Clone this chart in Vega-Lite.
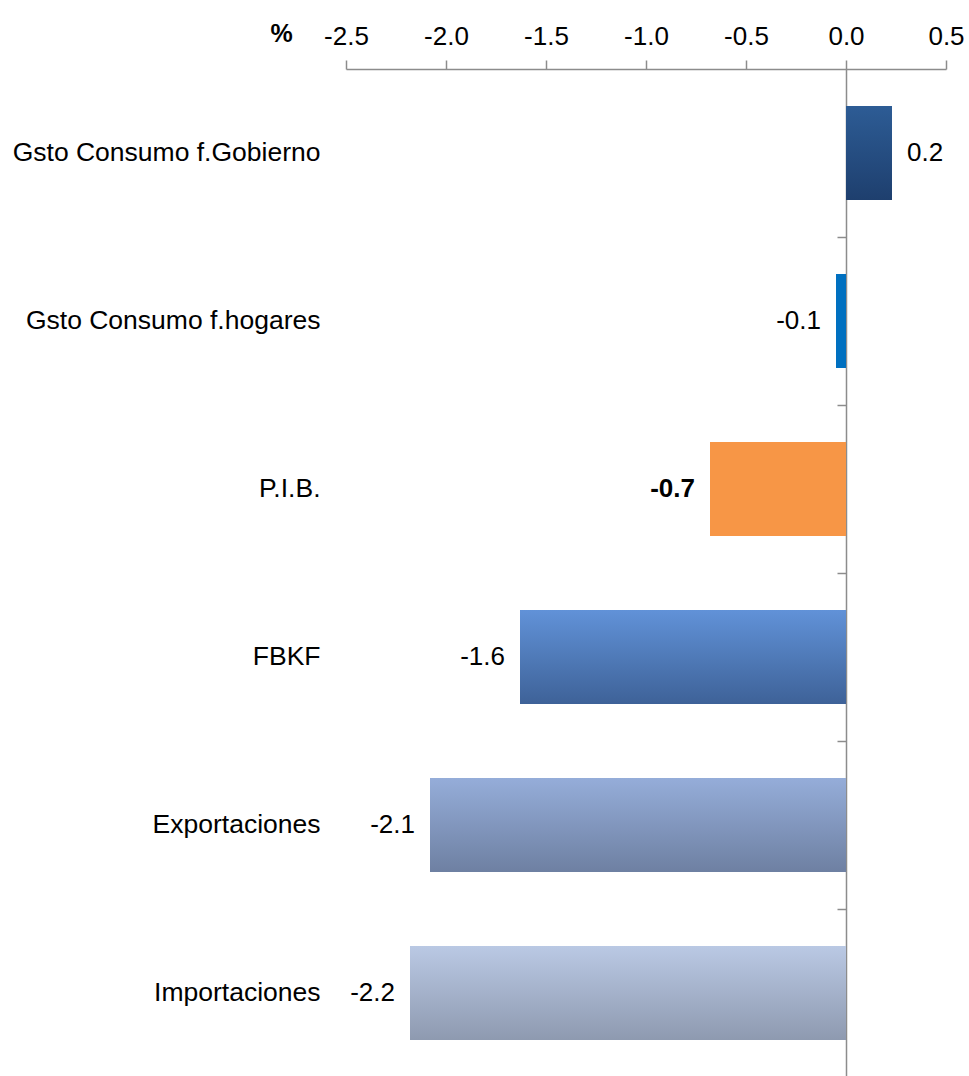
{
  "$schema": "https://vega.github.io/schema/vega-lite/v6.json",
  "autosize": "none",
  "width": 600,
  "height": 1008,
  "padding": {"left": 346, "top": 69, "right": 23, "bottom": 0},
  "background": "white",
  "config": {"view": {"stroke": null}, "font": "Liberation Sans"},
  "data": {"values": [
    {"cat": "Gsto Consumo f.Gobierno", "value": 0.23, "label": "0.2"},
    {"cat": "Gsto Consumo f.hogares", "value": -0.05, "label": "-0.1"},
    {"cat": "P.I.B.", "value": -0.68, "label": "-0.7"},
    {"cat": "FBKF", "value": -1.63, "label": "-1.6"},
    {"cat": "Exportaciones", "value": -2.08, "label": "-2.1"},
    {"cat": "Importaciones", "value": -2.18, "label": "-2.2"}
  ]},
  "encoding": {
    "y": {"field": "cat", "type": "nominal", "sort": null,
      "scale": {"paddingInner": 0.44, "paddingOuter": 0.22}},
    "x": {"field": "value", "type": "quantitative",
      "scale": {"domain": [-2.5, 0.5], "nice": false, "zero": false}}
  },
  "layer": [
    {
      "mark": {"type": "bar"},
      "encoding": {
        "y": {"field": "cat", "type": "nominal", "sort": null,
          "axis": {"orient": "left", "title": null, "domain": false, "ticks": false,
            "labelPadding": 26, "labelFontSize": 26.5, "labelColor": "#000000",
            "labelFont": "Liberation Sans", "labelLimit": 400}},
        "x": {"field": "value", "type": "quantitative",
          "axis": {"orient": "top", "title": "%", "values": [-2.5, -2.0, -1.5, -1.0, -0.5, 0.0, 0.5],
            "labelExpr": "replace(format(datum.value, '.1f'), '\u2212', '-')",
            "labelFlush": false, "labelOverlap": false,
            "grid": false, "domainColor": "#8c8c8c", "tickColor": "#8c8c8c", "tickSize": 9,
            "domainWidth": 1.5, "tickWidth": 1.5,
            "labelFontSize": 26, "labelColor": "#000000", "labelPadding": 11,
            "labelFont": "Liberation Sans",
            "titleFont": "Liberation Sans",
            "titleFontSize": 25, "titleFontWeight": "bold", "titleColor": "#000000",
            "titleX": -65, "titleY": -36, "titleAlign": "center", "titleBaseline": "middle"}},
        "x2": {"datum": 0},
        "fill": {
          "condition": [
            {"test": "datum.cat === 'Gsto Consumo f.Gobierno'", "value": {"gradient": "linear", "x1": 0, "y1": 0, "x2": 0, "y2": 1, "stops": [{"offset": 0, "color": "#2d5c95"}, {"offset": 1, "color": "#1e3f6e"}]}},
            {"test": "datum.cat === 'Gsto Consumo f.hogares'", "value": "#0070c0"},
            {"test": "datum.cat === 'P.I.B.'", "value": "#f79646"},
            {"test": "datum.cat === 'FBKF'", "value": {"gradient": "linear", "x1": 0, "y1": 0, "x2": 0, "y2": 1, "stops": [{"offset": 0, "color": "#6192d8"}, {"offset": 1, "color": "#3e6298"}]}},
            {"test": "datum.cat === 'Exportaciones'", "value": {"gradient": "linear", "x1": 0, "y1": 0, "x2": 0, "y2": 1, "stops": [{"offset": 0, "color": "#95add9"}, {"offset": 1, "color": "#6e80a2"}]}}
          ],
          "value": {"gradient": "linear", "x1": 0, "y1": 0, "x2": 0, "y2": 1, "stops": [{"offset": 0, "color": "#bac9e4"}, {"offset": 1, "color": "#8e9ab0"}]}
        }
      }
    },
    {
      "transform": [{"filter": "datum.value >= 0"}],
      "mark": {"type": "text", "align": "left", "baseline": "middle", "dx": 15, "fontSize": 26, "color": "#000000", "font": "Liberation Sans"},
      "encoding": {
        "y": {"field": "cat", "type": "nominal", "sort": null,
          "axis": {"orient": "left", "offset": -500, "title": null, "labels": false,
            "ticks": true, "tickBand": "center", "tickOffset": 84, "tickSize": 9, "tickColor": "#8c8c8c", "tickWidth": 1.5,
            "domain": true, "domainColor": "#8c8c8c", "domainWidth": 1.5, "grid": false}},
        "text": {"field": "label"}
      }
    },
    {
      "transform": [{"filter": "datum.value < 0 && datum.cat !== 'P.I.B.'"}],
      "mark": {"type": "text", "align": "right", "baseline": "middle", "dx": -15, "fontSize": 26, "color": "#000000", "font": "Liberation Sans"},
      "encoding": {
        "y": {"field": "cat", "type": "nominal", "sort": null, "axis": null},
        "text": {"field": "label"}
      }
    },
    {
      "transform": [{"filter": "datum.cat === 'P.I.B.'"}],
      "mark": {"type": "text", "align": "right", "baseline": "middle", "dx": -15, "fontSize": 26, "fontWeight": "bold", "color": "#000000", "font": "Liberation Sans"},
      "encoding": {
        "y": {"field": "cat", "type": "nominal", "sort": null, "axis": null},
        "text": {"field": "label"}
      }
    }
  ],
  "resolve": {"axis": {"y": "independent"}}
}
